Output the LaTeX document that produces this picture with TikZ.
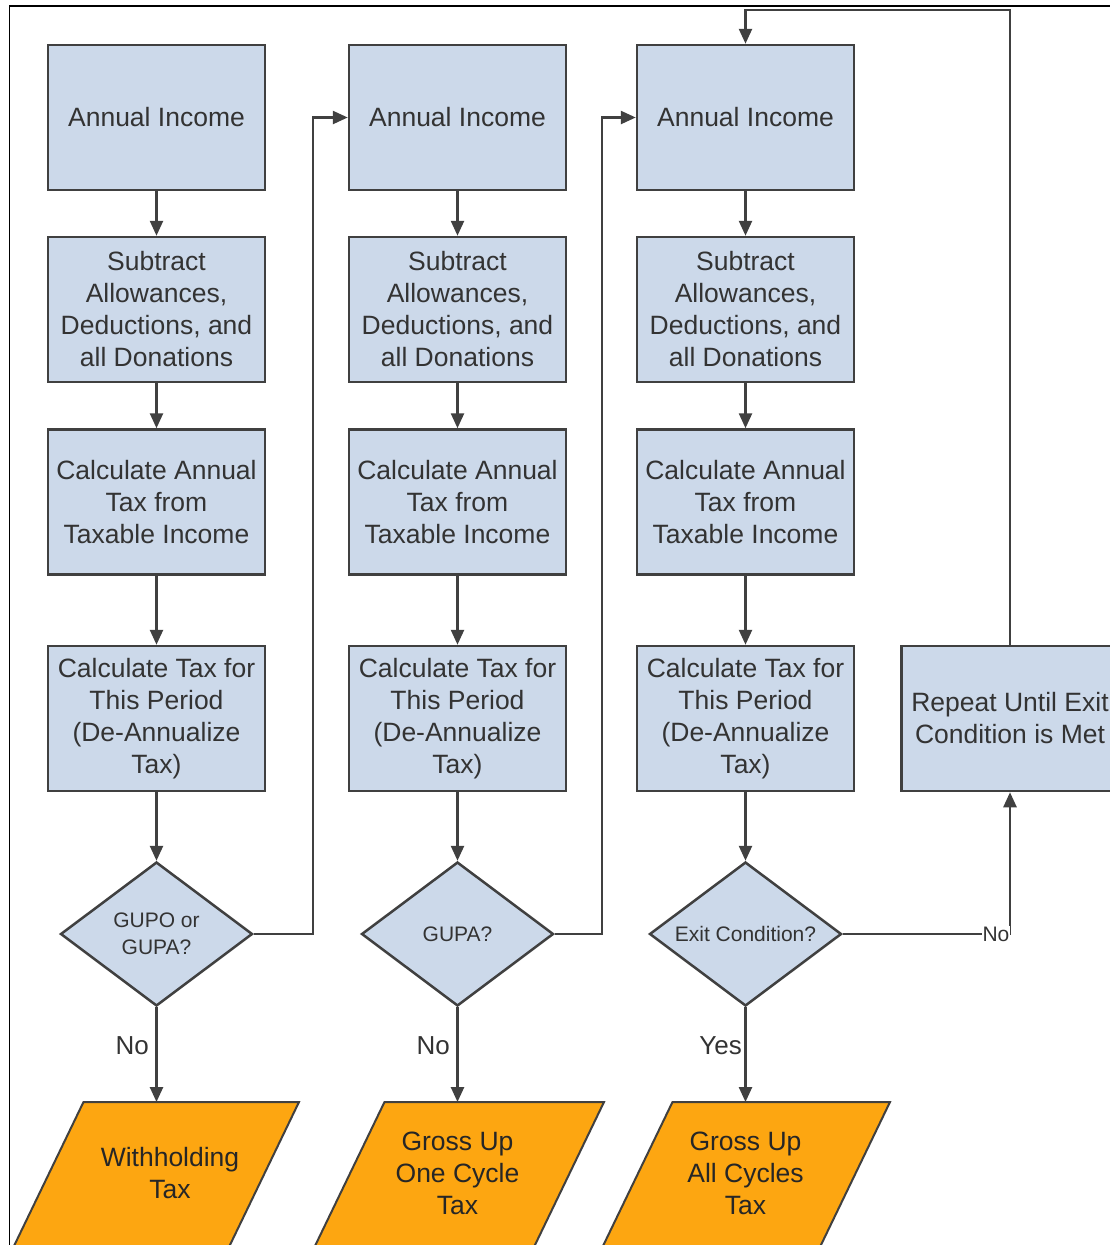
\documentclass[tikz,border=0pt]{standalone}
\usepackage{fontspec}
\setmainfont{Liberation Sans}
\usetikzlibrary{shapes.geometric,arrows.meta}
\definecolor{boxblue}{HTML}{CCD9EA}
\definecolor{boxorange}{HTML}{FDA611}
\definecolor{edgegray}{HTML}{404040}
\definecolor{txtgray}{HTML}{333333}
\tikzset{
  procbox/.style={draw=edgegray, line width=2.5bp, fill=boxblue, rectangle,
    minimum width=217bp, minimum height=145bp, inner sep=0pt, align=center,
    text=txtgray, font=\fontsize{26.5bp}{32bp}\selectfont},
  decbox/.style={draw=edgegray, line width=2.5bp, fill=boxblue, diamond, aspect=1.333,
    minimum width=192bp, minimum height=144bp, inner sep=0pt, align=center,
    text=txtgray, font=\fontsize{21bp}{27bp}\selectfont},
  outshape/.style={draw=edgegray, line width=2bp, fill=boxorange},
  outtext/.style={align=center, text=black!85, font=\fontsize{26.5bp}{32bp}\selectfont, inner sep=0pt},
  flow/.style={draw=edgegray, line width=2.5bp, -{Triangle[length=15bp,width=13bp]}},
  flowlabel/.style={text=txtgray, font=\fontsize{26bp}{30bp}\selectfont, inner sep=0pt},
  smalllabel/.style={text=txtgray, font=\fontsize{21bp}{24bp}\selectfont, inner sep=1bp, fill=white},
}
\begin{document}
\begin{tikzpicture}[x=1bp,y=-1bp]
\useasboundingbox (0,0) rectangle (1110,1245);
\fill[white] (0,0) rectangle (1110,1245);
% frame
\draw[black, line width=1.5bp] (9.5,1250) -- (9.5,6) -- (1115,6);

% column 1
\node[procbox] (a1) at (156.5,117.5) {Annual Income};
\node[procbox] (a2) at (156.5,309.5) {Subtract\\Allowances,\\Deductions, and\\all Donations};
\node[procbox] (a3) at (156.5,502) {Calculate Annual\\Tax from\\Taxable Income};
\node[procbox] (a4) at (156.5,718.5) {Calculate Tax for\\This Period\\(De-Annualize\\Tax)};
\node[decbox] (d1) at (156.5,934) {GUPO or\\GUPA?};

% column 2
\node[procbox] (b1) at (457.5,117.5) {Annual Income};
\node[procbox] (b2) at (457.5,309.5) {Subtract\\Allowances,\\Deductions, and\\all Donations};
\node[procbox] (b3) at (457.5,502) {Calculate Annual\\Tax from\\Taxable Income};
\node[procbox] (b4) at (457.5,718.5) {Calculate Tax for\\This Period\\(De-Annualize\\Tax)};
\node[decbox] (d2) at (457.5,934) {GUPA?};

% column 3
\node[procbox] (c1) at (745.5,117.5) {Annual Income};
\node[procbox] (c2) at (745.5,309.5) {Subtract\\Allowances,\\Deductions, and\\all Donations};
\node[procbox] (c3) at (745.5,502) {Calculate Annual\\Tax from\\Taxable Income};
\node[procbox] (c4) at (745.5,718.5) {Calculate Tax for\\This Period\\(De-Annualize\\Tax)};
\node[decbox] (d3) at (745.5,934) {Exit Condition?};

% repeat box
\node[procbox] (rep) at (1010,718.5) {Repeat Until Exit\\Condition is Met};

% output parallelograms
\draw[outshape] (83.5,1102) -- (299,1102) -- (229,1247) -- (13.5,1247) -- cycle;
\coordinate (p1) at (156.5,1102);
\node[outtext] (o1) at (170,1173) {Withholding\\Tax};
\draw[outshape] (384.5,1102) -- (604,1102) -- (534,1247) -- (314.5,1247) -- cycle;
\coordinate (p2) at (457.5,1102);
\node[outtext] (o2) at (457.5,1173) {Gross Up\\One Cycle\\Tax};
\draw[outshape] (672.5,1102) -- (890,1102) -- (820,1247) -- (602.5,1247) -- cycle;
\coordinate (p3) at (745.5,1102);
\node[outtext] (o3) at (745.5,1173) {Gross Up\\All Cycles\\Tax};

% vertical flows
\foreach \c in {a,b,c}{
  \draw[flow] (\c1.south) -- (\c2.north);
  \draw[flow] (\c2.south) -- (\c3.north);
  \draw[flow] (\c3.south) -- (\c4.north);
}
\draw[flow] (a4.south) -- (d1.north);
\draw[flow] (b4.south) -- (d2.north);
\draw[flow] (c4.south) -- (d3.north);

\draw[flow] (d1.south) -- (p1);
\draw[flow] (d2.south) -- (p2);
\draw[flow] (d3.south) -- (p3);
\node[flowlabel, anchor=east] (n1) at (149,1046) {No};
\node[flowlabel, anchor=east] (n2) at (450,1046) {No};
\node[flowlabel, anchor=east] (n3) at (742,1046) {Yes};

% loop connectors
\coordinate (j1) at (313,934);
\coordinate (j2) at (602,934);
\draw[flow] (d1.east) -- (j1) |- (b1.west);
\draw[flow] (d2.east) -- (j2) |- (c1.west);
\draw[flow] (d3.east) -| (rep.south);
\node[smalllabel] (n4) at (996,934) {No};
\coordinate (topturn) at (1010,10);
\draw[flow] (rep.north) -- (topturn) -| (c1.north);
\end{tikzpicture}
\end{document}
